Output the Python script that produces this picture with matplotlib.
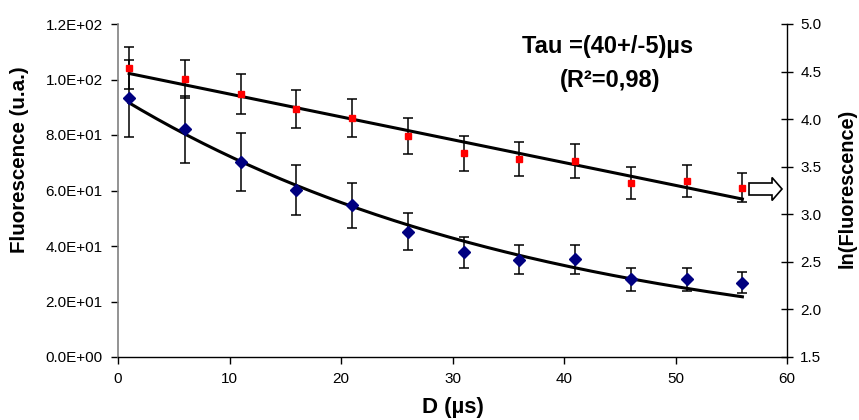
import numpy as np
import matplotlib
matplotlib.use("Agg")
import matplotlib.pyplot as plt
from matplotlib.patches import Polygon
from matplotlib.ticker import FuncFormatter, MultipleLocator

plt.rcParams['font.family'] = ['Liberation Sans', 'DejaVu Sans']

# ---- data ----
delay_us = [1, 6, 11, 16, 21, 26, 31, 36, 41, 46, 51, 56]
fluo = [93.2, 82.0, 70.3, 60.2, 54.7, 45.2, 37.8, 35.1, 35.2, 28.0, 28.0, 26.8]
fluo_err = [14.0, 12.2, 10.5, 9.0, 8.1, 6.7, 5.6, 5.3, 5.2, 4.2, 4.2, 3.9]
ln_fluo = [4.54, 4.42, 4.26, 4.11, 4.015, 3.82, 3.64, 3.58, 3.56, 3.33, 3.35, 3.28]
ln_err = [0.22, 0.20, 0.21, 0.20, 0.20, 0.19, 0.18, 0.18, 0.18, 0.17, 0.17, 0.155]

# fit parameters (exponential fit on F, linear fit on ln F)
exp_amp = 94.0
exp_tau = 38.2
lin_intercept = 4.504
lin_slope = -0.024
fit_range = [1, 56]

annot_tau = "Tau =(40+/-5)µs"
annot_r2 = "(R²=0,98)"

W, H = 859, 420
fig = plt.figure(figsize=(W / 100, H / 100), dpi=100)
ax = fig.add_axes([118 / W, 1 - 357 / H, (787 - 118) / W, (357 - 24) / H])
ax2 = ax.twinx()

# left axis: fluorescence
ax.errorbar(delay_us, fluo, yerr=fluo_err, fmt='none', ecolor='black',
            elinewidth=1.1, capsize=3.6, capthick=1.1, zorder=3)
xf = np.linspace(fit_range[0], fit_range[1], 200)
ax.plot(xf, exp_amp * np.exp(-xf / exp_tau), color='black', lw=2.2, zorder=4)
ax.plot(delay_us, fluo, linestyle='none', marker='D', markersize=6.5,
        color='#000080', zorder=5)

# right axis: ln(fluorescence)
ax2.errorbar(delay_us, ln_fluo, yerr=ln_err, fmt='none', ecolor='black',
             elinewidth=1.1, capsize=3.6, capthick=1.1, zorder=3)
ax2.plot(xf, lin_intercept + lin_slope * xf, color='black', lw=2.2, zorder=4)
ax2.plot(delay_us, ln_fluo, linestyle='none', marker='s', markersize=4.2,
         color='#FF0000', zorder=5)

ax.set_xlim(0, 60)
ax.set_ylim(0, 120)
ax2.set_ylim(1.5, 5.0)
ax.xaxis.set_major_locator(MultipleLocator(10))
ax.yaxis.set_major_locator(MultipleLocator(20))
ax2.yaxis.set_major_locator(MultipleLocator(0.5))
ax.yaxis.set_major_formatter(FuncFormatter(lambda v, p: f"{v:.1E}"))
ax2.yaxis.set_major_formatter(FuncFormatter(lambda v, p: f"{v:.1f}"))

for a in (ax, ax2):
    a.spines['top'].set_visible(False)
    a.patch.set_visible(False)
ax.spines['right'].set_visible(False)
ax2.spines['left'].set_visible(False)
ax2.spines['bottom'].set_visible(False)
ax.spines['left'].set_color('#808080')
ax.spines['left'].set_linewidth(1.2)
ax.spines['bottom'].set_linewidth(1.0)
ax2.spines['right'].set_linewidth(1.0)

ax.tick_params(axis='y', direction='out', length=5, width=1, labelsize=11, pad=6)
ax.tick_params(axis='x', direction='out', length=5, width=1, labelsize=11, pad=6)
ax2.tick_params(axis='y', direction='inout', length=9, width=1, labelsize=11, pad=5)

# hollow arrow pointing to the right axis
ah = 333.0
aw = 669.0
x0 = (749 - 118) / aw
x1 = (772 - 118) / aw
x2 = (782 - 118) / aw
yc = (357 - 189) / ah
bh = 6 / ah
hh = 11.5 / ah
arrow = Polygon([[x0, yc - bh], [x1, yc - bh], [x1, yc - hh], [x2, yc],
                 [x1, yc + hh], [x1, yc + bh], [x0, yc + bh]], closed=True,
                facecolor='white', edgecolor='black', lw=1.2,
                transform=ax.transAxes, clip_on=False, zorder=6)
ax2.add_patch(arrow)

fig.text(608 / W, 1 - 47 / H, annot_tau, ha='center', va='center',
         fontsize=17, fontweight='bold')
fig.text(610 / W, 1 - 81 / H, annot_r2, ha='center', va='center',
         fontsize=17, fontweight='bold')

fig.text(453 / W, 1 - 408 / H, "D (µs)", ha='center', va='center',
         fontsize=16, fontweight='bold')
fig.text(20 / W, 1 - 160 / H, "Fluorescence (u.a.)", ha='center', va='center',
         rotation=90, fontsize=14.8, fontweight='bold')
fig.text(847 / W, 1 - 188 / H, "ln(Fluorescence)", ha='center', va='center',
         rotation=90, fontsize=14.3, fontweight='bold')

fig.savefig("out.png", dpi=100)
